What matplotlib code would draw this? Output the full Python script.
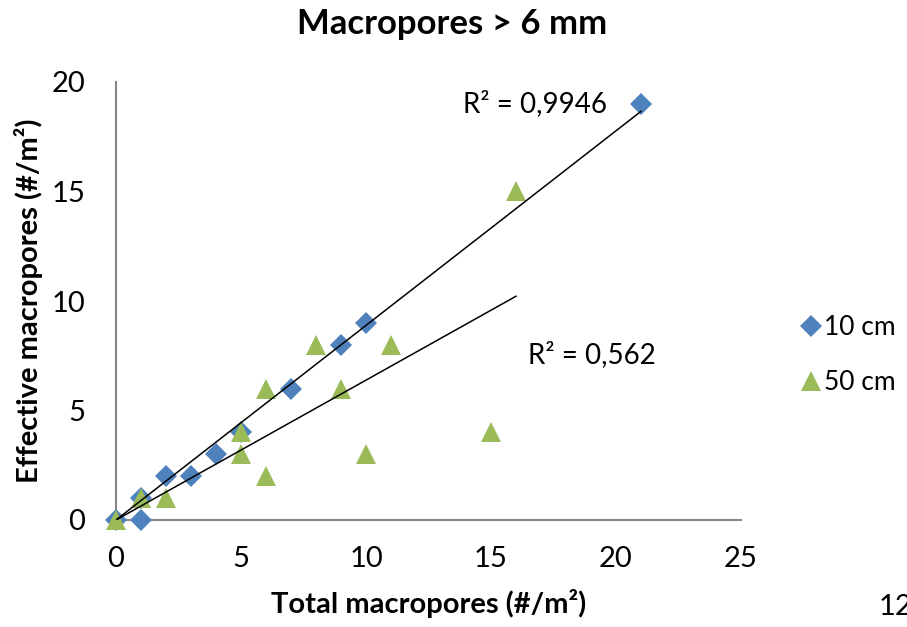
import numpy as np
import matplotlib
matplotlib.use('Agg')
import matplotlib.pyplot as plt
from matplotlib.lines import Line2D

plt.rcParams['font.family'] = ['Lato', 'DejaVu Sans']

# 10 cm depth
x_10 = [0, 1, 1, 2, 3, 4, 5, 7, 9, 10, 21]
y_10 = [0, 0, 1, 2, 2, 3, 4, 6, 8, 9, 19]
# 50 cm depth
x_50 = [0, 1, 2, 5, 5, 6, 6, 8, 9, 10, 11, 15, 16]
y_50 = [0, 1, 1, 4, 3, 6, 2, 8, 6, 3, 8, 4, 15]

r2_labels = ['R² = 0,9946', 'R² = 0,562']

blue = '#4F81BD'
green = '#9BBB59'
grey = '#868686'


def fit_origin(xs, ys):
    """Linear trend forced through zero (like in Excel)"""
    xs, ys = np.asarray(xs, float), np.asarray(ys, float)
    return (xs * ys).sum() / (xs * xs).sum()


fig = plt.figure(figsize=(9.07, 6.27), dpi=100)
axis = fig.add_axes([116 / 907, 107 / 627, 625 / 907, 438 / 627])

axis.plot(x_10, y_10, linestyle='none', marker='D', markersize=11,
          color=blue, markeredgewidth=0, zorder=3, clip_on=False)
axis.plot(x_50, y_50, linestyle='none', marker='^', markersize=14.5,
          color=green, markeredgewidth=0, zorder=4, clip_on=False)

# trend lines
for xs, ys in ((x_10, y_10), (x_50, y_50)):
    k = fit_origin(xs, ys)
    xx = np.array([0, max(xs)])
    axis.plot(xx, k * xx, color='black', linewidth=1.1, zorder=5)

axis.text(16.75, 19.0, r2_labels[0], ha='center', va='center', fontsize=20)
axis.text(19.05, 7.55, r2_labels[1], ha='center', va='center', fontsize=20)

axis.set_xlim(0, 25)
axis.set_ylim(0, 20)
axis.set_xticks(range(0, 26, 5))
axis.set_yticks(range(0, 21, 5))
axis.tick_params(length=0, labelsize=21)
axis.tick_params(axis='x', pad=19)
axis.tick_params(axis='y', pad=22)
for side in ('top', 'right'):
    axis.spines[side].set_visible(False)
for side in ('left', 'bottom'):
    axis.spines[side].set_color(grey)
    axis.spines[side].set_linewidth(1.5)

axis.set_xlabel('Total macropores (#/m²)', fontsize=21, fontweight='bold',
                labelpad=12)
axis.set_ylabel('Effective macropores (#/m²)', fontsize=21,
                fontweight='bold', labelpad=6)
fig.suptitle('Macropores > 6 mm', fontsize=25, fontweight='bold',
             x=452 / 907, y=1 - 24 / 627, va='center')

handles = [
    Line2D([], [], linestyle='none', marker='D', markersize=11,
           color=blue, markeredgewidth=0),
    Line2D([], [], linestyle='none', marker='^', markersize=14.5,
           color=green, markeredgewidth=0),
]
fig.legend(handles, ['10 cm', '50 cm'], loc='center left',
           bbox_to_anchor=(791 / 907, 1 - 355 / 627), frameon=False,
           fontsize=19, handlelength=0.7, handletextpad=0.15,
           labelspacing=1.15, borderaxespad=0)

# page number, cut at the right edge as in the reference
fig.text(879 / 907, 1 - 607 / 627, '12', fontsize=21, va='center')

fig.savefig('out.png', dpi=100)
